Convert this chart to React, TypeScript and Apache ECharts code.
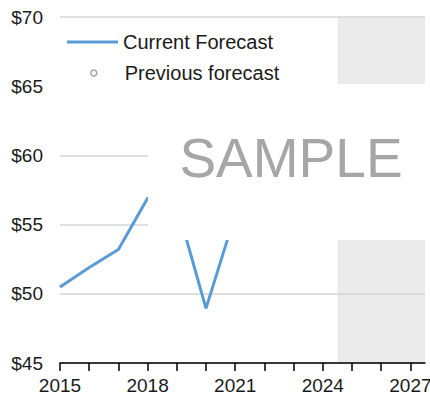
import React, { useEffect, useRef } from "react";
import * as echarts from "echarts";

const years = [2015, 2016, 2017, 2018, 2019, 2020, 2021];
const currentForecast = [50.5, 51.9, 53.2, 56.9, 56.4, 48.95, 55.7];
const previousForecast: number[][] = [];
const yTicks = [45, 50, 55, 60, 65, 70];
const xTickYears = [2015, 2016, 2017, 2018, 2019, 2020, 2021, 2022, 2023, 2024, 2025, 2026, 2027];
const xLabelYears = [2015, 2018, 2021, 2024, 2027];
const shadeFrom = 2024.5;
const shadeTo = 2027.5;

const FONT = "'Liberation Sans', Arial, sans-serif";

export default function App() {
  const ref = useRef<HTMLDivElement>(null);
  useEffect(() => {
    if (!ref.current) return;
    const chart = echarts.init(ref.current, undefined, { renderer: "svg" });
    chart.setOption({
      animation: false,
      textStyle: { fontFamily: FONT },
      grid: { left: 60, right: 5, top: 17, bottom: 37, containLabel: false, outerBoundsMode: "none" },
      legend: [
        {
          data: [{ name: "Current Forecast", icon: "rect", itemStyle: { color: "#5b9bd5" } }],
          left: 67,
          top: 32,
          padding: 0,
          itemWidth: 51,
          itemHeight: 3,
          z: 50,
          textStyle: { fontSize: 20, lineHeight: 20, color: "#1a1a1a", fontFamily: FONT },
        },
        {
          data: [{ name: "Previous forecast", icon: "circle", itemStyle: { color: "#fff", borderColor: "#8c8c8c", borderWidth: 1.5 } }],
          left: 90,
          top: 63,
          padding: 0,
          itemWidth: 6,
          itemHeight: 6,
          z: 50,
          textStyle: { fontSize: 20, lineHeight: 20, color: "#1a1a1a", fontFamily: FONT, padding: [0, 0, 0, 23] },
        },
      ],
      xAxis: {
        type: "value",
        min: 2015,
        max: shadeTo,
        interval: 1,
        z: 2,
        axisLine: { show: true, lineStyle: { color: "#000", width: 1.5 } },
        axisTick: { show: true, length: 8, customValues: xTickYears, lineStyle: { color: "#000", width: 1.5 } },
        axisLabel: {
          customValues: xLabelYears,
          margin: 13,
          fontSize: 19,
          color: "#1a1a1a",
          fontFamily: FONT,
          formatter: (v: number) => String(v),
        },
        splitLine: { show: false },
      },
      yAxis: {
        type: "value",
        min: 45,
        max: 70,
        interval: 5,
        z: 2,
        axisLine: { show: false },
        axisTick: { show: false },
        axisLabel: {
          margin: 17,
          fontSize: 19,
          color: "#1a1a1a",
          fontFamily: FONT,
          formatter: (v: number) => (yTicks.includes(v) ? "$" + v : ""),
        },
        splitLine: { show: true, lineStyle: { color: "#d4d4d4", width: 1.5 } },
      },
      series: [
        {
          name: "shade",
          type: "line",
          data: [],
          z: 1,
          silent: true,
          markArea: {
            silent: true,
            z: 1,
            itemStyle: { color: "#ebebeb" },
            data: [[{ xAxis: shadeFrom }, { xAxis: shadeTo }]],
          },
        },
        {
          name: "Current Forecast",
          type: "line",
          z: 3,
          symbol: "none",
          data: years.map((y, i) => [y, currentForecast[i]]),
          lineStyle: { color: "#5b9bd5", width: 3 },
          itemStyle: { color: "#5b9bd5" },
        },
        {
          name: "Previous forecast",
          type: "scatter",
          z: 3,
          symbol: "emptyCircle",
          data: previousForecast,
          itemStyle: { color: "#8c8c8c" },
        },
      ],
      graphic: [
        { type: "rect", z: 100, shape: { x: 148, y: 84, width: 278, height: 156 }, style: { fill: "#fff" } },
        { type: "rect", z: 100, shape: { x: 58, y: 84, width: 92, height: 6 }, style: { fill: "#fff" } },
        {
          type: "text",
          z: 101,
          x: 291,
          y: 158,
          style: {
            text: "SAMPLE",
            fontSize: 55,
            fontFamily: FONT,
            fill: "#a6a6a6",
            textAlign: "center",
            textVerticalAlign: "middle",
          },
        },
      ],
    });
    return () => chart.dispose();
  }, []);
  return <div ref={ref} style={{ width: 430, height: 400, position: "absolute", left: 0, top: 0 }} />;
}
